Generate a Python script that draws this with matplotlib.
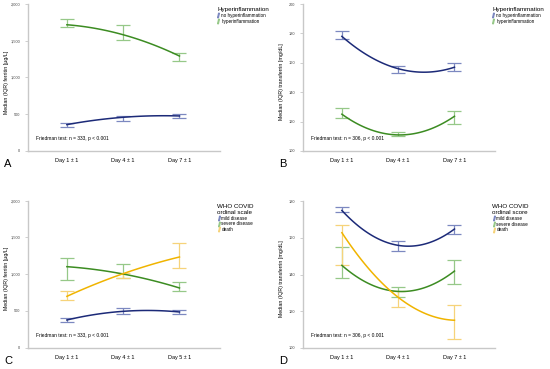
import matplotlib.pyplot as plt
import numpy as np
from matplotlib.lines import Line2D

plt.rcParams['font.family'] = ['Liberation Sans', 'DejaVu Sans']

days_ab = ["Day 1 \u00b1 1", "Day 4 \u00b1 1", "Day 7 \u00b1 1"]
days_c = ["Day 1 \u00b1 1", "Day 4 \u00b1 1", "Day 5 \u00b1 1"]

# A: ferritin by hyperinflammation (median, lower, upper)
a_no = [358, 458, 476]
a_no_lo = [330, 412, 449]
a_no_hi = [377, 480, 499]
a_hyp = [1718, 1582, 1292]
a_hyp_lo = [1687, 1510, 1228]
a_hyp_hi = [1800, 1718, 1337]

# B: transferrin by hyperinflammation
b_no = [178, 156, 157]
b_no_lo = [176, 153.2, 154.3]
b_no_hi = [181.8, 157.7, 160]
b_hyp = [125, 110.9, 123.6]
b_hyp_lo = [122.2, 110, 118]
b_hyp_hi = [129, 113, 127]

# C: ferritin by WHO ordinal scale
c_mild = [376, 494, 485]
c_mild_lo = [354, 463, 463]
c_mild_hi = [404, 535, 508]
c_severe = [1102, 1002, 812]
c_severe_lo = [921, 943, 766]
c_severe_hi = [1224, 1134, 898]
c_death = [698, 1007, 1234]
c_death_lo = [644, 943, 1079]
c_death_hi = [776, 1016, 1420]

# D: transferrin by WHO ordinal score
d_mild = [174.9, 155.9, 164.8]
d_mild_lo = [173.8, 153, 162]
d_mild_hi = [176.9, 158, 167.1]
d_severe = [145, 130.8, 141.9]
d_severe_lo = [138.1, 127.9, 135]
d_severe_hi = [155.1, 133, 148.1]
d_death = [162.8, 127.6, 115.1]
d_death_lo = [145, 122.1, 105.1]
d_death_hi = [167.1, 130.8, 123.3]

BLUE, BLUE_L = "#1c2a78", "#7c88c0"
GREEN, GREEN_L = "#3c8c22", "#96c888"
YELLOW, YELLOW_L = "#f0b400", "#f6d37a"
GRAY = "#c8c8c8"


def series(ax, med, lo, hi, c, cl):
    x = np.arange(3)
    med = np.array(med)
    yerr = [med - np.array(lo), np.array(hi) - med]
    ax.errorbar(x, med, yerr=yerr, fmt="none", ecolor=cl, elinewidth=0.9,
                capsize=4.7, capthick=0.9, zorder=2)
    coef = np.polyfit(x, med, 2)
    xs = np.linspace(0, 2, 100)
    ax.plot(xs, np.polyval(coef, xs), color=c, lw=1.1, zorder=3)


def style(ax, labels, ylim, yticks, ylabel, friedman, letter):
    ax.set_xlim(-0.69, 2.72)
    ax.set_ylim(*ylim)
    ax.set_xticks(range(3))
    ax.set_xticklabels(labels, fontsize=4)
    ax.set_yticks(yticks)
    ax.set_yticklabels([f"{v:,}" for v in yticks], fontsize=2.8, color="#444444")
    ax.tick_params(axis="x", length=0, pad=5)
    ax.tick_params(axis="y", length=2, width=0.6, color=GRAY, pad=3.5)
    for s in ["top", "right"]:
        ax.spines[s].set_visible(False)
    for s in ["left", "bottom"]:
        ax.spines[s].set_color(GRAY)
        ax.spines[s].set_linewidth(1.0)
    ax.set_ylabel(ylabel, fontsize=3.8)
    ax.yaxis.set_label_coords(-0.098, 0.47)
    ax.text(0.04, 0.075, friedman, transform=ax.transAxes, fontsize=3.5)
    ax.text(-0.125, -0.11, letter, transform=ax.transAxes, fontsize=8)


def legend(ax, title, names, colors, align):
    handles = [Line2D([], [], marker="$I$", linestyle="none", color=c,
                      markersize=3.2) for c in colors]
    ax.legend(handles, names, title=title, loc="upper left",
              bbox_to_anchor=(0.975, 0.99), frameon=False, fontsize=3.3,
              title_fontsize=4.5, handlelength=0.6, handletextpad=0.3,
              labelspacing=0.15, borderaxespad=0, alignment=align)


fig = plt.figure(figsize=(5.5, 3.69), dpi=100)
axA = fig.add_axes([0.051, 0.591, 0.349, 0.398])
axB = fig.add_axes([0.551, 0.591, 0.349, 0.398])
axC = fig.add_axes([0.051, 0.058, 0.349, 0.398])
axD = fig.add_axes([0.551, 0.057, 0.349, 0.398])

series(axA, a_no, a_no_lo, a_no_hi, BLUE, BLUE_L)
series(axA, a_hyp, a_hyp_lo, a_hyp_hi, GREEN, GREEN_L)
style(axA, days_ab, (0, 2000), [0, 500, 1000, 1500, 2000],
      "Median (IQR) ferritin [\u00b5g/L]", "Friedman test: n = 333, p < 0.001", "A")
legend(axA, "Hyperinflammation", ["no hyperinflammation", "hyperinflammation"],
       [BLUE_L, GREEN_L], "left")

series(axB, b_no, b_no_lo, b_no_hi, BLUE, BLUE_L)
series(axB, b_hyp, b_hyp_lo, b_hyp_hi, GREEN, GREEN_L)
style(axB, days_ab, (100, 200), [100, 120, 140, 160, 180, 200],
      "Median (IQR) transferrin [mg/dL]", "Friedman test: n = 306, p < 0.001", "B")
legend(axB, "Hyperinflammation", ["no hyperinflammation", "hyperinflammation"],
       [BLUE_L, GREEN_L], "left")

series(axC, c_mild, c_mild_lo, c_mild_hi, BLUE, BLUE_L)
series(axC, c_severe, c_severe_lo, c_severe_hi, GREEN, GREEN_L)
series(axC, c_death, c_death_lo, c_death_hi, YELLOW, YELLOW_L)
style(axC, days_c, (0, 2000), [0, 500, 1000, 1500, 2000],
      "Median (IQR) ferritin [\u00b5g/L]", "Friedman test: n = 333, p < 0.001", "C")
legend(axC, "WHO COVID\nordinal scale", ["mild disease", "severe disease", "death"],
       [BLUE_L, GREEN_L, YELLOW_L], "center")

series(axD, d_mild, d_mild_lo, d_mild_hi, BLUE, BLUE_L)
series(axD, d_severe, d_severe_lo, d_severe_hi, GREEN, GREEN_L)
series(axD, d_death, d_death_lo, d_death_hi, YELLOW, YELLOW_L)
style(axD, days_ab, (100, 180), [100, 120, 140, 160, 180],
      "Median (IQR) transferrin [mg/dL]", "Friedman test: n = 306, p < 0.001", "D")
legend(axD, "WHO COVID\nordinal score", ["mild disease", "severe disease", "death"],
       [BLUE_L, GREEN_L, YELLOW_L], "center")

fig.savefig("out.png", dpi=100, facecolor="white")
